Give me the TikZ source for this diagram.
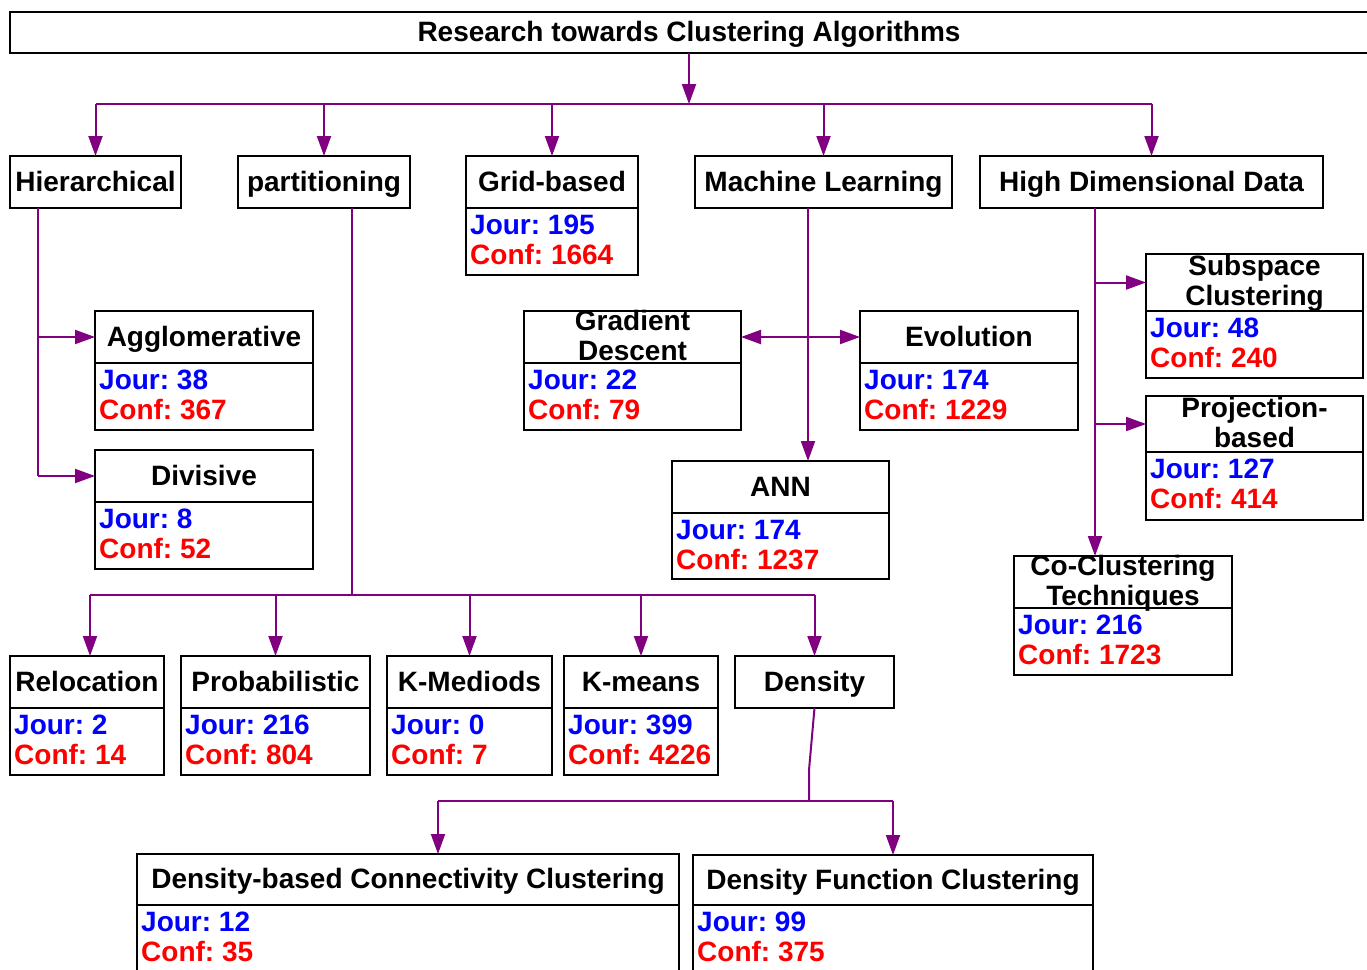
\documentclass[tikz,border=0pt]{standalone}
\usepackage{fontspec}
\setmainfont{Liberation Sans}
\usetikzlibrary{arrows.meta}
\frenchspacing
\definecolor{conncol}{RGB}{128,0,128}
\definecolor{jourcol}{RGB}{0,0,255}
\definecolor{confcol}{RGB}{255,0,0}
\newcommand{\bigf}{\fontsize{28pt}{30pt}\selectfont\bfseries\frenchspacing}
\tikzset{
  boxsty/.style={draw=black, line width=2pt, inner sep=0pt, outer sep=0pt, rectangle},
  ttl/.style={font=\bigf, text=black, inner sep=0pt},
  jt/.style={font=\bigf, text=jourcol, inner sep=0pt},
  ct/.style={font=\bigf, text=confcol, inner sep=0pt},
  conn/.style={draw=conncol, line width=2pt},
  arr/.style={conn, -{Triangle[length=20pt,width=14pt]}},
  arrboth/.style={conn, {Triangle[length=20pt,width=14pt]}-{Triangle[length=20pt,width=14pt]}}
}
% header box, one line title: name x y w h title
\newcommand{\hbx}[6]{%
  \node[boxsty, minimum width=#4pt, minimum height=#5pt, anchor=north west] (#1) at (#2,#3) {};
  \node[ttl, anchor=base] (#1-t) at ([yshift=-9pt]#1.center) {#6};}
% header box, two line title
\newcommand{\hbxii}[7]{%
  \node[boxsty, minimum width=#4pt, minimum height=#5pt, anchor=north west] (#1) at (#2,#3) {};
  \node[ttl, anchor=base] (#1-ta) at ([yshift=7pt]#1.center) {#6};
  \node[ttl, anchor=base] (#1-tb) at ([yshift=-23pt]#1.center) {#7};}
% body box under header: header-name w h jour conf
\newcommand{\bbx}[5]{%
  \node[boxsty, minimum width=#2pt, minimum height=#3pt, anchor=north west] (#1-b) at (#1.south west) {};
  \node[jt, anchor=base west] (#1-j) at ([xshift=4pt,yshift=-26pt]#1-b.north west) {Jour: #4};
  \node[ct, anchor=base west] (#1-c) at ([xshift=4pt,yshift=-56pt]#1-b.north west) {Conf: #5};}
\begin{document}
\begin{tikzpicture}[x=1pt,y=-1pt]
\useasboundingbox (0,0) rectangle (1367,969);
\clip (0,0) rectangle (1367,969);
\fill[white] (0,0) rectangle (1367,969);

% title
\node[boxsty, minimum width=1375pt, minimum height=41pt, anchor=north west] (title) at (10,12) {};
\node[ttl, anchor=base] (title-t) at (689,41) {Research towards Clustering Algorithms};

% level 1
\hbx{hier}{10}{156}{171}{52}{Hierarchical}
\hbx{part}{238}{156}{172}{52}{partitioning}
\hbx{grid}{466}{156}{172}{52}{Grid-based}
\bbx{grid}{172}{67}{195}{1664}
\hbx{ml}{695}{156}{257}{52}{Machine Learning}
\hbx{hdd}{980}{156}{343}{52}{High Dimensional Data}

% hierarchical children
\hbx{agg}{95}{311}{218}{52}{Agglomerative}
\bbx{agg}{218}{67}{38}{367}
\hbx{div}{95}{450}{218}{52}{Divisive}
\bbx{div}{218}{67}{8}{52}

% machine learning children
\hbxii{gd}{524}{311}{217}{52}{Gradient}{Descent}
\bbx{gd}{217}{67}{22}{79}
\hbx{evo}{860}{311}{218}{52}{Evolution}
\bbx{evo}{218}{67}{174}{1229}
\hbx{ann}{672}{461}{217}{52}{ANN}
\bbx{ann}{217}{66}{174}{1237}

% high dimensional children
\hbxii{sub}{1146}{254}{217}{57}{Subspace}{Clustering}
\bbx{sub}{217}{67}{48}{240}
\hbxii{proj}{1146}{396}{217}{56}{Projection-}{based}
\bbx{proj}{217}{68}{127}{414}
\hbxii{cocl}{1014}{556}{218}{52}{Co-Clustering}{Techniques}
\bbx{cocl}{218}{67}{216}{1723}

% partitioning children
\hbx{reloc}{10}{656}{154}{52}{Relocation}
\bbx{reloc}{154}{67}{2}{14}
\hbx{prob}{181}{656}{189}{52}{Probabilistic}
\bbx{prob}{189}{67}{216}{804}
\hbx{kmed}{387}{656}{165}{52}{K-Mediods}
\bbx{kmed}{165}{67}{0}{7}
\hbx{kmeans}{564}{656}{154}{52}{K-means}
\bbx{kmeans}{154}{67}{399}{4226}
\hbx{dens}{735}{656}{159}{52}{Density}

% density children
\hbx{dbcc}{137}{854}{542}{51}{Density-based Connectivity Clustering}
\bbx{dbcc}{542}{80}{12}{35}
\hbx{dfc}{693}{855}{400}{50}{Density Function Clustering}
\bbx{dfc}{400}{80}{99}{375}

% connectors: title to level 1
\coordinate (busT) at (689,104);
\draw[arr] (title.south -| busT) -- (busT);
\draw[conn] (hier.north |- busT) -- (hdd.north |- busT);
\foreach \n in {hier,part,grid,ml,hdd}{
  \draw[arr] (\n.north |- busT) -- (\n.north);
}

% hierarchical
\coordinate (hv) at ([xshift=28pt]hier.south west);
\draw[conn] (hv) -- (hv |- div.west);
\draw[arr] (hv |- agg.west) -- (agg.west);
\draw[arr] (hv |- div.west) -- (div.west);

% partitioning
\coordinate (pv) at ([xshift=28pt]part.south);
\coordinate (pbus) at (352,595);
\draw[conn] (pv) -- (pbus);
\draw[conn] ([xshift=3pt]reloc.north |- pbus) -- (dens.north |- pbus);
\draw[arr] ([xshift=3pt]reloc.north |- pbus) -- ([xshift=3pt]reloc.north);
\foreach \n in {prob,kmed,kmeans,dens}{
  \draw[arr] (\n.north |- pbus) -- (\n.north);
}

% density
\coordinate (db1) at (809,770);
\coordinate (dbus) at (809,801);
\coordinate (dbl) at (438,801);
\coordinate (dbr) at (dfc.north |- dbus);
\draw[conn] (dens.south) -- (db1) -- (dbus);
\draw[conn] (dbl) -- (dbr);
\draw[arr] (dbl) -- (dbl |- dbcc.north);
\draw[arr] (dbr) -- (dfc.north);

% machine learning
\coordinate (mv) at (808,208);
\draw[arr] (mv) -- (mv |- ann.north);
\draw[arrboth] (gd.east) -- (evo.west);

% high dimensional data
\coordinate (hdv) at (1095,208);
\draw[arr] (hdv) -- (hdv |- cocl.north);
\draw[arr] (hdv |- sub.west) -- (sub.west);
\draw[arr] (hdv |- proj.west) -- (proj.west);
\end{tikzpicture}
\end{document}
